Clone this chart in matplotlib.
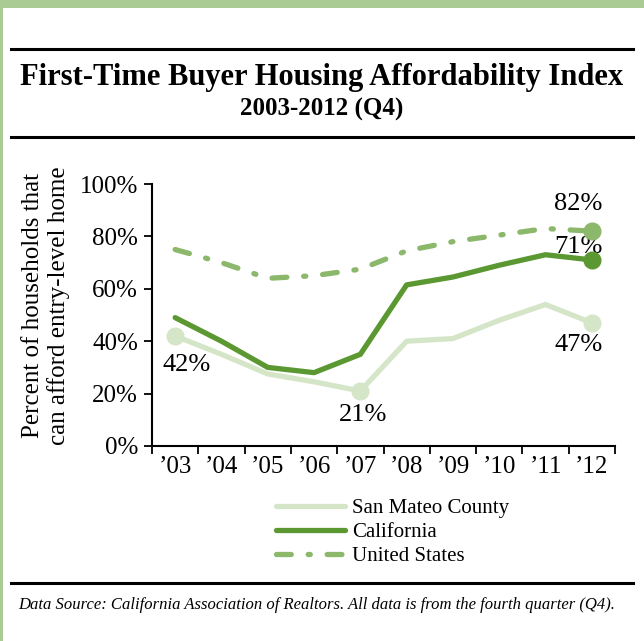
import matplotlib.pyplot as plt
from matplotlib.patches import Rectangle
from matplotlib.lines import Line2D

# First-time buyer affordability, Q4 of each year (% of households)
years = ["’03", "’04", "’05", "’06", "’07", "’08", "’09", "’10", "’11", "’12"]
san_mateo = [42, 35, 27.5, 24.5, 21, 40, 41, 48, 54, 47]
california = [49, 40, 30, 28, 35, 61.5, 64.5, 69, 73, 71]
united_states = [75, 70, 64, 65, 67.5, 74.5, 78, 80.5, 83, 82]

c_sm = "#d5e6c8"
c_ca = "#5b9832"
c_us = "#8cb86b"
c_frame = "#abcb95"
serif = ["Liberation Serif", "DejaVu Serif"]

plt.rcParams['font.family'] = serif

fig = plt.figure(figsize=(6.44, 6.41), dpi=100)

# green frame along top and left edge
fig.add_artist(Rectangle((0, 1 - 8 / 641), 1, 8 / 641, transform=fig.transFigure,
                         color=c_frame, lw=0))
fig.add_artist(Rectangle((0, 0), 3 / 644, 1, transform=fig.transFigure,
                         color=c_frame, lw=0))

# black rules
for y in [49, 137, 583]:
    fig.add_artist(Line2D([11 / 644, 633 / 644], [1 - y / 641] * 2,
                          transform=fig.transFigure, color="black", lw=2.2))

fig.text(322 / 644, 1 - 77 / 641, "First-Time Buyer Housing Affordability Index",
         ha="center", va="center", fontsize=22, fontweight="bold")
fig.text(322 / 644, 1 - 109 / 641, "2003-2012 (Q4)",
         ha="center", va="center", fontsize=18, fontweight="bold")

ax = fig.add_axes([152 / 644, 1 - 446 / 641, 463 / 644, 262 / 641])
x = list(range(len(years)))

ax.plot(x, san_mateo, color=c_sm, lw=3.8, solid_capstyle="round", label="San Mateo County")
ax.plot(x, california, color=c_ca, lw=3.8, solid_capstyle="round", label="California")
ax.plot(x, united_states, color=c_us, lw=3.8, dashes=(2.8, 3.2, 0.4, 3.2),
        dash_capstyle="round", label="United States")

# highlighted points
for i in [0, 4, 9]:
    ax.plot(x[i], san_mateo[i], "o", color=c_sm, ms=12, zorder=4)
ax.plot(x[9], california[9], "o", color=c_ca, ms=12, zorder=4)
ax.plot(x[9], united_states[9], "o", color=c_us, ms=12, zorder=4)

lbl = dict(fontsize=19, ha="center", va="center", textcoords="offset points")
ax.annotate(f"{san_mateo[0]:.0f}%", (x[0], san_mateo[0]), xytext=(8, -21), **lbl)
ax.annotate(f"{san_mateo[4]:.0f}%", (x[4], san_mateo[4]), xytext=(2, -17), **lbl)
ax.annotate(f"{san_mateo[9]:.0f}%", (x[9], san_mateo[9]), xytext=(-9.5, -16), **lbl)
ax.annotate(f"{california[9]:.0f}%", (x[9], california[9]), xytext=(-9.5, 9.5), **lbl)
ax.annotate(f"{united_states[9]:.0f}%", (x[9], united_states[9]), xytext=(-9.5, 19.5), **lbl)

ax.set_xlim(-0.5, len(years) - 0.5)
ax.set_ylim(0, 100)
ax.set_yticks(range(0, 101, 20))
ax.set_yticklabels([f"{v}%" for v in range(0, 101, 20)], fontsize=18)
ax.set_xticks(x)
ax.set_xticklabels(years, fontsize=18)
ax.set_xticks([i - 0.5 for i in range(len(years) + 1)], minor=True)
ax.tick_params(axis="x", which="major", length=0, pad=7)
ax.tick_params(axis="x", which="minor", length=6, width=1.3)
ax.tick_params(axis="y", length=6, width=1.3, pad=4)
for s in ["top", "right"]:
    ax.spines[s].set_visible(False)
for s in ["left", "bottom"]:
    ax.spines[s].set_linewidth(1.5)

ax.set_ylabel("Percent of households that\ncan afford entry-level home",
              fontsize=18, linespacing=1.15)
ax.yaxis.set_label_coords(-0.178, 0.535)

ax.legend(loc="upper left", bbox_to_anchor=(268 / 644, 1 - 490 / 641),
          bbox_transform=fig.transFigure, frameon=False, fontsize=15,
          handlelength=3.3, handletextpad=0.35, labelspacing=0.22,
          borderaxespad=0)

fig.text(18 / 644, 1 - 605 / 641,
         "Data Source: California Association of Realtors. All data is from the fourth quarter (Q4).",
         ha="left", va="center", fontsize=12, style="italic")

fig.savefig("out.png", dpi=100)
